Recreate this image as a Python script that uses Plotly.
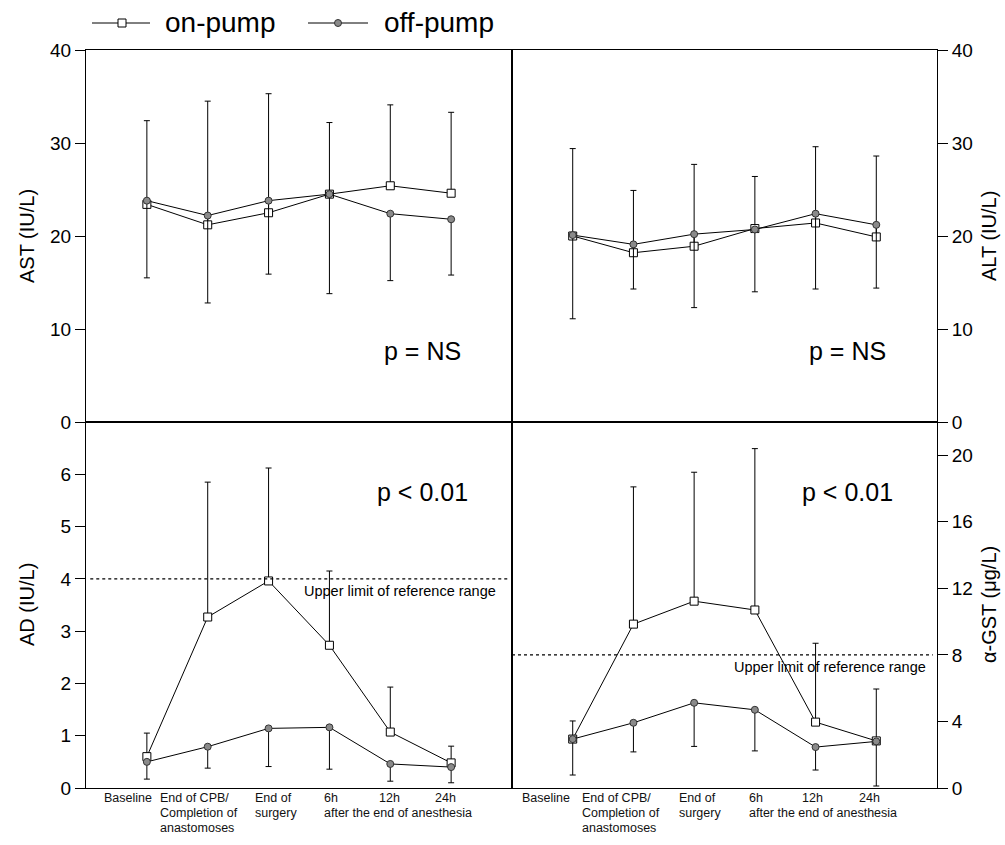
import plotly.graph_objects as go

# ---- data ----
x_idx = [0, 1, 2, 3, 4, 5]

ast_on = [23.4, 21.2, 22.5, 24.5, 25.4, 24.6]
ast_on_upper = [32.4, 34.5, 35.3, 32.2, 34.1, 33.3]
ast_off = [23.8, 22.2, 23.8, 24.5, 22.4, 21.8]
ast_off_lower = [15.5, 12.8, 15.9, 13.8, 15.2, 15.8]

alt_on = [20.0, 18.2, 18.9, 20.8, 21.4, 19.9]
alt_on_upper = [29.4, 24.9, 27.7, 26.4, 29.6, 28.6]
alt_off = [20.1, 19.1, 20.2, 20.7, 22.4, 21.2]
alt_off_lower = [11.1, 14.3, 12.3, 14.0, 14.3, 14.4]

ad_on = [0.60, 3.27, 3.96, 2.73, 1.07, 0.48]
ad_on_upper = [1.05, 5.85, 6.12, 4.15, 1.93, 0.80]
ad_off = [0.50, 0.79, 1.14, 1.16, 0.46, 0.40]
ad_off_lower = [0.17, 0.38, 0.41, 0.36, 0.13, 0.10]

gst_on = [2.94, 9.85, 11.23, 10.7, 3.96, 2.83]
gst_on_upper = [4.03, 18.1, 18.98, 20.4, 8.7, 5.95]
gst_off = [2.94, 3.92, 5.12, 4.7, 2.46, 2.80]
gst_off_lower = [0.78, 2.17, 2.5, 2.23, 1.08, 0.12]

ad_ref_limit = 4
gst_ref_limit = 8

# x label texts and their (left-anchored) positions in category units
x_labels = ["Baseline", "End of CPB/<br>Completion of<br>anastomoses", "End of<br>surgery",
            "6h<br>after the end of anesthesia", "12h", "24h"]
x_label_pos_left = [-0.74, 0.18, 1.74, 2.88, 3.78, 4.70]
x_label_pos_right = [-0.87, 0.12, 1.72, 2.87, 3.74, 4.68]

FONT = "Liberation Sans, Arial, sans-serif"

fig = go.Figure()


def add_pair(xa, ya, on, on_up, off, off_lo):
    fig.add_trace(go.Scatter(
        x=x_idx, y=on, mode="lines+markers", name="on-pump", showlegend=False,
        xaxis=xa, yaxis=ya,
        line=dict(color="black", width=1),
        marker=dict(symbol="square", size=8, color="white", line=dict(color="black", width=1)),
        error_y=dict(type="data", symmetric=False,
                     array=[u - m for u, m in zip(on_up, on)],
                     arrayminus=[0] * len(on),
                     color="black", thickness=1, width=3),
    ))
    fig.add_trace(go.Scatter(
        x=x_idx, y=off, mode="lines+markers", name="off-pump", showlegend=False,
        xaxis=xa, yaxis=ya,
        line=dict(color="black", width=1),
        marker=dict(symbol="circle", size=7, color="#8a8a8a", line=dict(color="#333333", width=1)),
        error_y=dict(type="data", symmetric=False,
                     array=[0] * len(off),
                     arrayminus=[m - l for m, l in zip(off, off_lo)],
                     color="black", thickness=1, width=3),
    ))


add_pair("x", "y", ast_on, ast_on_upper, ast_off, ast_off_lower)
add_pair("x2", "y2", alt_on, alt_on_upper, alt_off, alt_off_lower)
add_pair("x3", "y3", ad_on, ad_on_upper, ad_off, ad_off_lower)
add_pair("x4", "y4", gst_on, gst_on_upper, gst_off, gst_off_lower)

W, H = 1005, 845
xl = [86 / W, 512 / W]
xr = [512 / W, 937 / W]
yt = [(H - 422) / H, (H - 50) / H]
yb = [(H - 788) / H, (H - 422) / H]

ax_common = dict(showline=True, linecolor="black", linewidth=1, mirror=True,
                 showgrid=False, zeroline=False, automargin=False)
xcommon = dict(ax_common, range=[-1, 6], showticklabels=False, ticks="")
ycommon = dict(ax_common, ticks="outside", ticklen=10, tickcolor="black",
               tickfont=dict(family=FONT, size=19, color="black"))

fig.update_layout(
    width=W, height=H,
    margin=dict(l=0, r=0, t=0, b=0, autoexpand=False),
    paper_bgcolor="white", plot_bgcolor="white",
    font=dict(family=FONT, color="black"),
    showlegend=False,
    xaxis=dict(xcommon, domain=xl, anchor="y"),
    yaxis=dict(ycommon, domain=yt, anchor="x", range=[0, 40], tickvals=[0, 10, 20, 30, 40]),
    xaxis2=dict(xcommon, domain=xr, anchor="y2"),
    yaxis2=dict(ycommon, domain=yt, anchor="x2", side="right", range=[0, 40],
                tickvals=[0, 10, 20, 30, 40]),
    xaxis3=dict(xcommon, domain=xl, anchor="y3"),
    yaxis3=dict(ycommon, domain=yb, anchor="x3", range=[0, 7], tickvals=[0, 1, 2, 3, 4, 5, 6]),
    xaxis4=dict(xcommon, domain=xr, anchor="y4"),
    yaxis4=dict(ycommon, domain=yb, anchor="x4", side="right", range=[0, 22],
                tickvals=[0, 4, 8, 12, 16, 20]),
)

# reference range lines
fig.add_shape(type="line", xref="x3 domain", yref="y3", x0=0.01, x1=0.99,
              y0=ad_ref_limit, y1=ad_ref_limit, line=dict(color="black", width=1.3, dash="dot"))
fig.add_shape(type="line", xref="x4 domain", yref="y4", x0=0.0, x1=0.99,
              y0=gst_ref_limit, y1=gst_ref_limit, line=dict(color="black", width=1.3, dash="dot"))

# custom legend glyphs (line with marker)
leg_y = 1 - 23 / H
for x0, x1, xm, kind, fill, edge, sz in [(92, 150, 122, "rect", "white", "black", 4),
                                           (308, 368, 338, "circle", "#8a8a8a", "#333333", 3.5)]:
    fig.add_shape(type="line", xref="paper", yref="paper", x0=x0 / W, x1=x1 / W,
                  y0=leg_y, y1=leg_y, line=dict(color="black", width=1))
    fig.add_shape(type=kind, xref="paper", yref="paper", xsizemode="pixel", ysizemode="pixel",
                  xanchor=xm / W, yanchor=leg_y, x0=-sz, x1=sz, y0=-sz, y1=sz,
                  fillcolor=fill, line=dict(color=edge, width=1))

ann = []
for txt, xp in [("on-pump", 163), ("off-pump", 382)]:
    ann.append(dict(text=txt, xref="paper", yref="paper", x=xp / W, y=1 - 22 / H,
                    xanchor="left", yanchor="middle", showarrow=False,
                    font=dict(family=FONT, size=28)))
# reference labels
ann.append(dict(text="Upper limit of reference range", xref="x3 domain", yref="y3",
                x=0.966, y=ad_ref_limit, xanchor="right", yanchor="top", yshift=-2,
                showarrow=False, font=dict(family=FONT, size=14.5)))
ann.append(dict(text="Upper limit of reference range", xref="x4 domain", yref="y4",
                x=0.979, y=gst_ref_limit, xanchor="right", yanchor="top", yshift=-2,
                showarrow=False, font=dict(family=FONT, size=14.5)))
# p-values
for xa, ya, txt in [("x", "y", "p = NS"), ("x2", "y2", "p = NS"),
                    ("x3", "y3", "p < 0.01"), ("x4", "y4", "p < 0.01")]:
    ann.append(dict(text=txt, xref=xa + " domain", yref=ya + " domain",
                    x=0.79, y=0.19 if ya in ("y", "y2") else 0.809,
                    xanchor="center", yanchor="middle", showarrow=False,
                    font=dict(family=FONT, size=25)))
# axis titles
for txt, xp, yp in [("AST (IU/L)", 27, 236), ("AD (IU/L)", 27, 605),
                    ("ALT (IU/L)", 989, 236), ("α-GST (μg/L)", 989, 605)]:
    ann.append(dict(text=txt, xref="paper", yref="paper", x=xp / W, y=1 - yp / H,
                    xanchor="center", yanchor="middle", textangle=-90, showarrow=False,
                    font=dict(family=FONT, size=20)))
# x category labels (one annotation per text line)
line_y = [798, 813, 828]
for xa, pos in [("x3", x_label_pos_left), ("x4", x_label_pos_right)]:
    for lab, p in zip(x_labels, pos):
        for k, part in enumerate(lab.split("<br>")):
            ann.append(dict(text=part, xref=xa, yref="paper", x=p, y=1 - line_y[k] / H,
                            xanchor="left", yanchor="middle", showarrow=False,
                            font=dict(family=FONT, size=12.5, color="#111111")))
fig.update_layout(annotations=ann)

fig.write_html("out.html", config={"displayModeBar": False},
               post_script="document.body.style.margin='0';")
